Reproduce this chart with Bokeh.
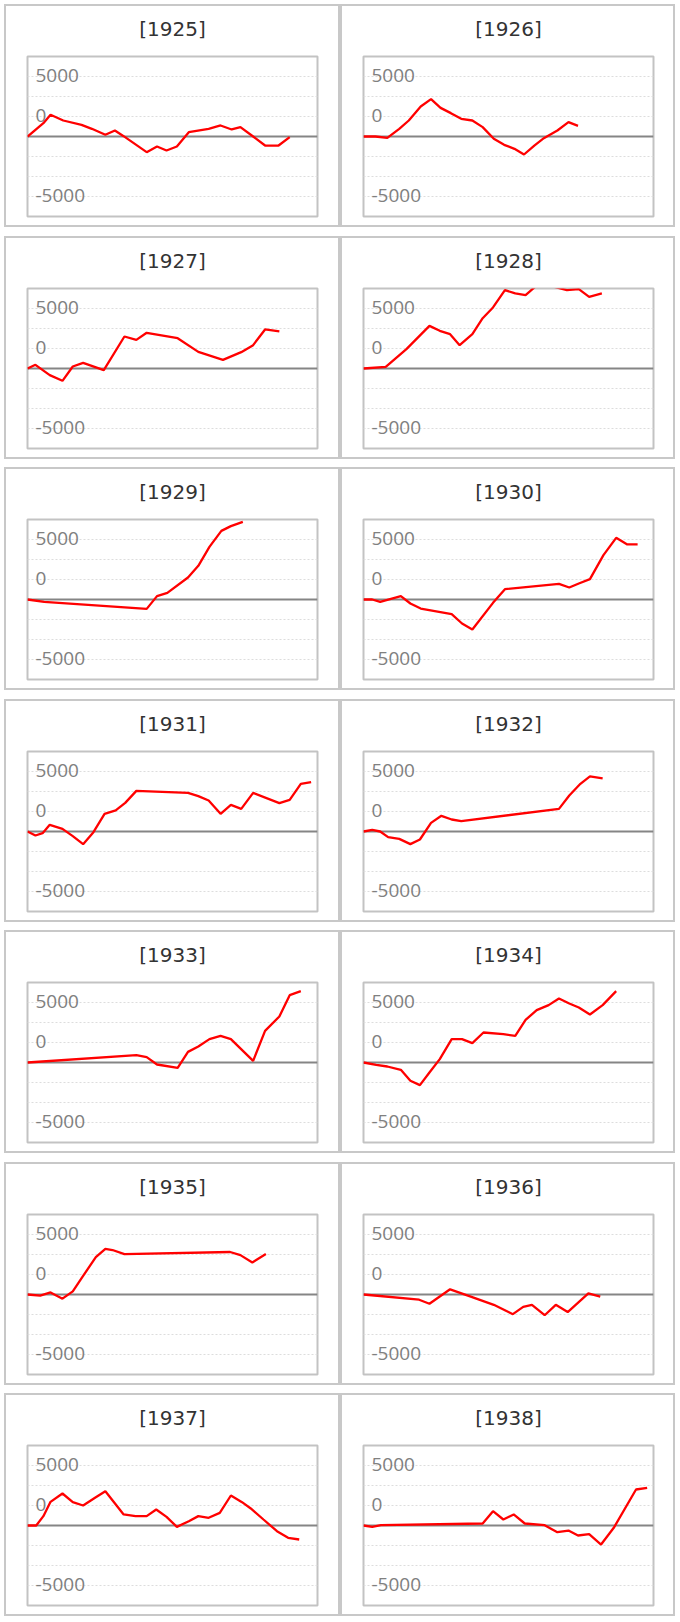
from bokeh.plotting import figure
from bokeh.layouts import gridplot
from bokeh.models import FixedTicker, Range1d, Grid
from bokeh.embed import file_html
from bokeh.resources import INLINE
from bokeh.core.properties import value

# ---- data (x = day of year, y = value) ----
years = [1925, 1926, 1927, 1928, 1929, 1930, 1931, 1932, 1933, 1934, 1935, 1936, 1937, 1938]

days_1925 = [0, 20, 29, 45, 68, 81, 98, 110, 121, 150, 163, 175, 188, 203, 228, 243, 257, 268, 284, 299, 316, 330]
vals_1925 = [0, 1670, 2710, 2000, 1460, 960, 210, 750, 40, -1960, -1250, -1750, -1250, 540, 960, 1380, 880, 1170, 0, -1130, -1130, -80]

days_1926 = [0, 15, 30, 45, 57, 72, 85, 97, 110, 123, 137, 150, 164, 177, 190, 202, 215, 227, 244, 258, 270]
vals_1926 = [0, 0, -170, 960, 2000, 3750, 4670, 3580, 2920, 2210, 2000, 1170, -290, -1040, -1540, -2250, -1130, -210, 750, 1790, 1330]

days_1927 = [0, 10, 28, 44, 57, 70, 96, 122, 137, 150, 189, 215, 246, 269, 284, 299, 317]
vals_1927 = [0, 460, -830, -1540, 250, 710, -210, 4000, 3580, 4460, 3790, 2080, 1080, 2040, 2920, 4880, 4630]

days_1928 = [0, 28, 54, 83, 96, 109, 121, 137, 150, 163, 178, 191, 204, 217, 233, 256, 271, 284, 300]
vals_1928 = [0, 210, 2420, 5330, 4710, 4290, 2920, 4290, 6290, 7630, 9790, 9380, 9170, 10300, 10400, 9790, 9920, 8960, 9380]

days_1929 = [0, 21, 150, 163, 176, 202, 215, 229, 244, 256, 271]
vals_1929 = [0, -290, -1170, 420, 830, 2750, 4210, 6580, 8580, 9170, 9710]

days_1930 = [0, 11, 21, 47, 59, 72, 111, 124, 137, 163, 178, 246, 259, 271, 285, 302, 318, 332, 345]
vals_1930 = [0, 0, -290, 420, -500, -1130, -1830, -3000, -3750, -420, 1290, 1960, 1500, 2000, 2540, 5540, 7710, 6880, 6880]

days_1931 = [0, 10, 19, 28, 44, 57, 70, 83, 97, 111, 123, 137, 202, 215, 228, 243, 256, 269, 284, 317, 330, 344, 357]
vals_1931 = [0, -500, -210, 830, 330, -580, -1580, -80, 2210, 2630, 3580, 5080, 4830, 4420, 3880, 2210, 3330, 2830, 4830, 3540, 3960, 5960, 6170]

days_1932 = [0, 11, 21, 31, 45, 59, 71, 85, 98, 111, 123, 246, 259, 273, 285, 301]
vals_1932 = [0, 210, 0, -710, -920, -1580, -1000, 1080, 1960, 1500, 1290, 2830, 4500, 5960, 6880, 6630]

days_1933 = [0, 137, 150, 163, 189, 202, 215, 229, 243, 256, 284, 299, 317, 330, 344]
vals_1933 = [0, 920, 670, -250, -670, 1330, 2000, 2920, 3330, 2920, 210, 3960, 5750, 8420, 8920]

days_1934 = [0, 16, 30, 47, 59, 71, 83, 96, 111, 124, 137, 151, 176, 191, 204, 218, 233, 246, 259, 271, 285, 301, 318]
vals_1934 = [0, -290, -500, -920, -2290, -2830, -1250, 420, 2920, 2920, 2420, 3750, 3540, 3330, 5330, 6540, 7170, 8000, 7380, 6880, 6000, 7170, 8920]

days_1935 = [0, 16, 29, 44, 57, 70, 86, 98, 107, 122, 255, 268, 283, 300]
vals_1935 = [0, -130, 260, -520, 390, 2330, 4660, 5690, 5560, 5050, 5310, 4920, 4010, 5050]

days_1936 = [0, 70, 83, 109, 135, 164, 188, 201, 212, 228, 242, 257, 283, 298]
vals_1936 = [0, -650, -1160, 650, -260, -1290, -2460, -1550, -1290, -2590, -1290, -2200, 130, -260]

days_1937 = [0, 11, 20, 29, 44, 57, 70, 85, 98, 121, 136, 150, 162, 175, 188, 203, 215, 228, 242, 256, 270, 281, 297, 314, 328, 342]
vals_1937 = [0, 0, 1170, 2960, 4000, 2920, 2500, 3460, 4290, 1380, 1170, 1170, 2000, 1080, -170, 540, 1170, 960, 1580, 3750, 2920, 2130, 750, -710, -1540, -1750]

days_1938 = [0, 11, 22, 150, 163, 176, 189, 203, 228, 244, 258, 270, 284, 299, 315, 343, 357]
vals_1938 = [0, -170, 40, 250, 1790, 750, 1380, 250, 40, -830, -630, -1250, -1080, -2380, -290, 4500, 4710]

# axis ticks / labels
grid_ticks = [-7500, -5000, -2500, 2500, 5000, 7500]
label_ticks = [7500, 2500, -7500]
label_texts = ["5000", "0", "-5000"]
x_start, x_end = 0, 365
y_start, y_end = -10000, 10000

series = {
    1925: (days_1925, vals_1925), 1926: (days_1926, vals_1926),
    1927: (days_1927, vals_1927), 1928: (days_1928, vals_1928),
    1929: (days_1929, vals_1929), 1930: (days_1930, vals_1930),
    1931: (days_1931, vals_1931), 1932: (days_1932, vals_1932),
    1933: (days_1933, vals_1933), 1934: (days_1934, vals_1934),
    1935: (days_1935, vals_1935), 1936: (days_1936, vals_1936),
    1937: (days_1937, vals_1937), 1938: (days_1938, vals_1938),
}

W = 340
ROW_H = [232, 231, 232, 231, 232, 231, 231]
BORDER = "#c8c8c8"


def panel_border_css(x0, x1, y0, y1):
    """CSS background drawing a 2px frame from (x0,y0) to (x1,y1) behind the canvas."""
    g = "linear-gradient(%s,%s)" % (BORDER, BORDER)
    w = x1 - x0
    h = y1 - y0
    return {
        "background-image": ", ".join([g] * 4),
        "background-size": "%dpx 2px, %dpx 2px, 2px %dpx, 2px %dpx" % (w, w, h, h),
        "background-position": "%dpx %dpx, %dpx %dpx, %dpx %dpx, %dpx %dpx" % (
            x0, y0, x0, y1 - 2, x0, y0, x1 - 2, y0),
        "background-repeat": "no-repeat",
    }


def make_panel(idx, year):
    d, v = series[year]
    col = idx % 2
    H = ROW_H[idx // 2]
    if col == 0:
        mbl, mbr, bx0, bx1 = 27, 23, 4, 340
    else:
        mbl, mbr, bx0, bx1 = 23, 27, 0, 335
    p = figure(width=W, height=H, x_range=Range1d(x_start, x_end), y_range=Range1d(y_start, y_end),
               output_backend="svg", toolbar_location=None, tools="",
               x_axis_location=None, y_axis_location=None,
               min_border_left=mbl, min_border_right=mbr, min_border_top=56, min_border_bottom=H - 216,
               styles=panel_border_css(bx0, bx1, 4, 227))
    p.center = []
    p.background_fill_color = "white"
    p.border_fill_alpha = 0
    p.outline_line_color = "#c3c3c3"
    p.outline_line_width = 2

    p.title.text = "[%d]" % year
    p.title.align = "center"
    p.title.vertical_align = "top"
    p.title.text_font = "DejaVu Sans"
    p.title.text_font_size = "20px"
    p.title.text_font_style = "normal"
    p.title.text_color = "#333333"
    p.title.standoff = 28

    grid = Grid(dimension=1, ticker=FixedTicker(ticks=grid_ticks),
                grid_line_color="#dddddd", grid_line_width=1, grid_line_dash="2 2")
    p.add_layout(grid)

    p.text(x=[x_start] * len(label_ticks), y=label_ticks, text=label_texts,
           x_offset=8, y_offset=-1, text_align="left", text_baseline="middle",
           text_font=value("Open Sans"), text_font_size="19px", text_color="#808080")

    p.hspan(y=[0], line_color="#858585", line_width=2)
    p.line(d, v, line_color="#ff0000", line_width=2.3)
    return p


panels = [make_panel(i, y) for i, y in enumerate(years)]
grid_layout = gridplot(panels, ncols=2, toolbar_location=None)

open("out.html", "w").write(file_html(grid_layout, INLINE))
